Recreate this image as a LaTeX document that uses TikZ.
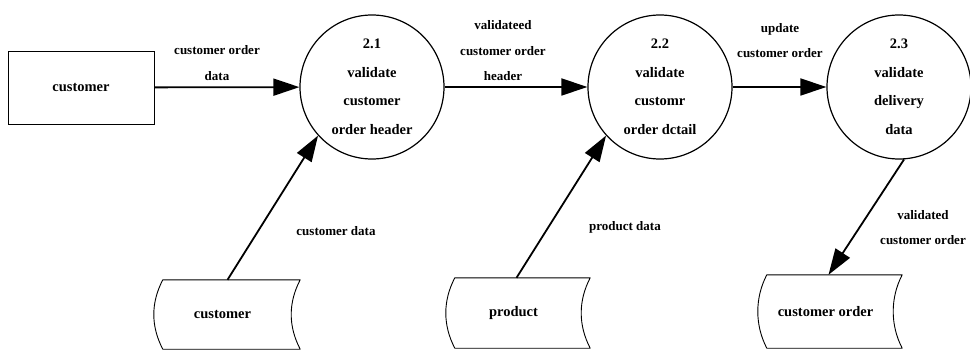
\documentclass[tikz,border=0pt]{standalone}
\usepackage{fontspec}
\setmainfont{Liberation Serif}
\usetikzlibrary{arrows.meta}

% Data store outline: straight top and bottom, both sides bowed to the left.
\newcommand\storeoutline[1]{%
  \draw[storeline] ([xshift=9pt]#1.north west) -- ([xshift=9pt]#1.north east)
    .. controls +(-12,23) and +(-12,-23) .. ([xshift=9pt]#1.south east)
    -- ([xshift=9pt]#1.south west)
    .. controls +(-12,-23) and +(-12,23) .. ([xshift=9pt]#1.north west) -- cycle;}

\begin{document}
\begin{tikzpicture}[x=1pt,y=-1pt,
  proc/.style={circle, draw, line width=1.2pt, minimum size=144pt, inner sep=0pt,
    align=center, font=\fontsize{14.5}{28.5}\selectfont\bfseries},
  entity/.style={rectangle, draw, line width=0.9pt, minimum width=146pt,
    minimum height=73pt, font=\fontsize{14.5}{17}\selectfont\bfseries},
  store/.style={rectangle, inner sep=0pt, font=\fontsize{14.5}{17}\selectfont\bfseries},
  storeline/.style={line width=0.9pt, line join=round},
  flow/.style={line width=1.8pt, -{Triangle[length=26pt,width=17pt]}},
  flowlabel/.style={align=center, inner sep=0pt,
    font=\fontsize{13}{25.5}\selectfont\bfseries}]

\useasboundingbox (0,0) rectangle (970,350);

% external entity
\node[entity] (cust) at (81,87.5) {customer};

% processes
\node[proc] (p21) at (372,87) {2.1\\validate\\customer\\order header};
\node[proc] (p22) at (660,87) {2.2\\validate\\customr\\order dctail};
\node[proc] (p23) at (899,87) {2.3\\validate\\delivery\\data};

% data stores
\node[store, minimum width=137pt, minimum height=69pt] (s1) at (222.5,314.5) {customer};
\node[store, minimum width=135pt, minimum height=70pt] (s2) at (513.5,313) {product};
\node[store, minimum width=135pt, minimum height=73pt] (s3) at (825.5,311.5) {customer order};
\storeoutline{s1}
\storeoutline{s2}
\storeoutline{s3}

% data flows
\draw[flow] (cust) -- (p21);
\draw[flow] (p21) -- (p22);
\draw[flow] (p22) -- (p23);
\draw[flow] ([xshift=5pt]s1.north) -- (p21.222);
\draw[flow] ([xshift=3pt]s2.north) -- (p22.222);
\draw[flow] (p23.274) -- ([xshift=3pt]s3.north);

% flow labels
\node[flowlabel] (l1) at (217,63) {customer order\\data};
\node[flowlabel] (l2) at (503,51) {validateed\\customer order\\header};
\node[flowlabel] (l3) at (780,40.5) {update\\customer order};
\node[flowlabel] (l4) at (336,231) {customer data};
\node[flowlabel] (l5) at (625,227) {product data};
\node[flowlabel] (l6) at (923,227.5) {validated\\customer order};
\end{tikzpicture}
\end{document}
